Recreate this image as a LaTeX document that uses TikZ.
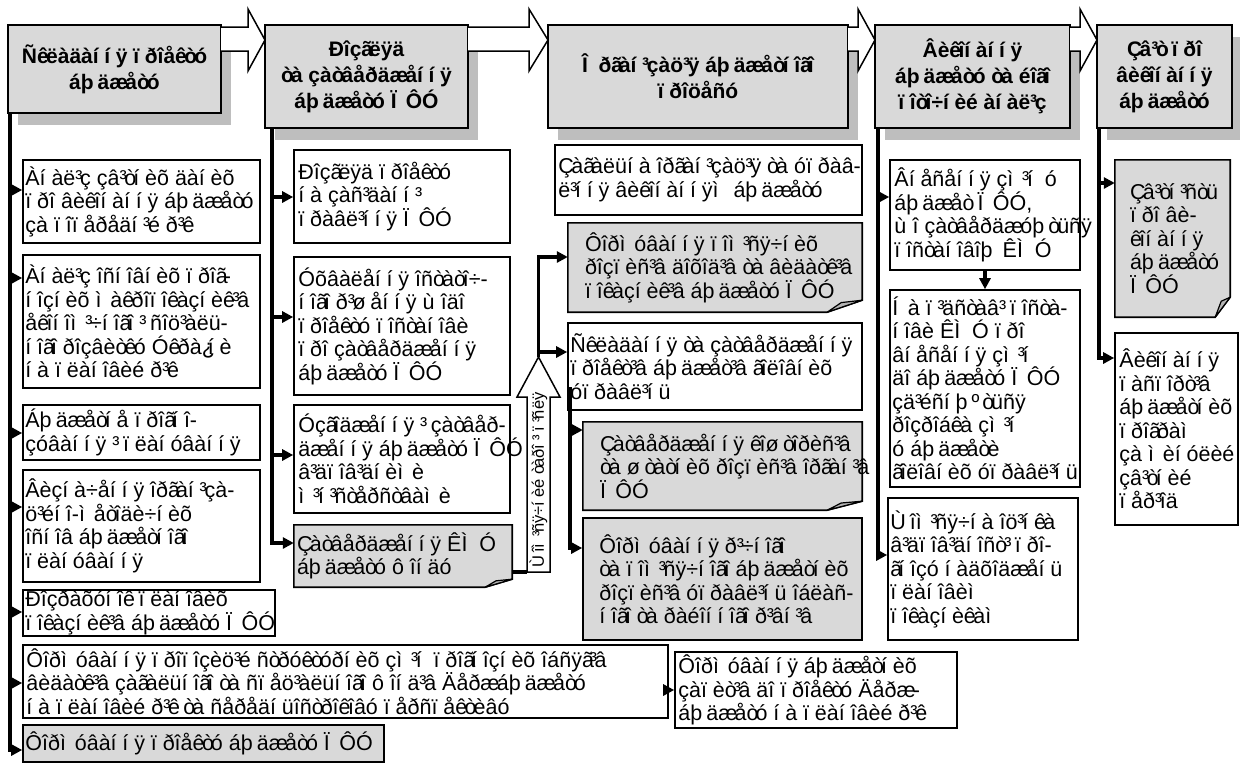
\documentclass[tikz,border=0pt]{standalone}
\usepackage{fontspec}
\setmainfont{Liberation Sans}
\usetikzlibrary{arrows.meta,shadows}
\definecolor{headgray}{HTML}{D9D9D9}
\definecolor{boxgray}{HTML}{D9D9D9}
\definecolor{shadowgray}{HTML}{BEBEBE}
\definecolor{foldgray}{HTML}{B4B4B4}
% emulate the Cyrillic advance widths of the original font
\catcode`\ã=13 \protected\defã{\char"00E3\kern-.19em\relax}
\catcode`\æ=13 \protected\defæ{\char"00E6\kern-.13em\relax}
\catcode`\ê=13 \protected\defê{\char"00EA\kern-.12em\relax}
\catcode`\ì=13 \protected\defì{\char"00EC\kern.41em\relax}
\catcode`\í=13 \protected\defí{\char"00ED\kern.27em\relax}
\catcode`\ï=13 \protected\defï{\char"00EF\kern.27em\relax}
\catcode`\ò=13 \protected\defò{\char"00F2\kern-.14em\relax}
\catcode`\ô=13 \protected\defô{\char"00F4\kern.27em\relax}
\catcode`\ø=13 \protected\defø{\char"00F8\kern.21em\relax}
\catcode`\ù=13 \protected\defù{\char"00F9\kern.29em\relax}
\catcode`\þ=13 \protected\defþ{\char"00FE\kern.19em\relax}
\catcode`\³=13 \protected\def³{\char"00B3\kern-.11em\relax}
\catcode`\¿=13 \protected\def¿{\char"00BF\kern-.33em\relax}
\catcode`\º=13 \protected\defº{\char"00BA\kern.13em\relax}
\catcode`\Ï=13 \protected\defÏ{\char"00CF\kern.44em\relax}
\catcode`\Ì=13 \protected\defÌ{\char"00CC\kern.55em\relax}
\catcode`\Í=13 \protected\defÍ{\char"00CD\kern.44em\relax}
\catcode`\Ù=13 \protected\defÙ{\char"00D9\kern.18em\relax}
\catcode`\Î=13 \protected\defÎ{\char"00CE\kern.50em\relax}
\catcode`\Ç=13 \protected\defÇ{\char"00C7\kern-.12em\relax}

\newcommand\mkhead[6]{%
  \pgfmathsetmacro\mybw{#4-#2}\pgfmathsetmacro\mybh{#5-#3}%
  \pgfmathsetmacro\mycx{(#2+#4)/2}\pgfmathsetmacro\mycy{(#3+#5)/2}%
  \node[head,minimum width=\mybw pt,minimum height=\mybh pt] (#1) at (\mycx,\mycy) {#6};}
\newcommand\mkbox[8]{%
  \pgfmathsetmacro\mybw{#5-#3}\pgfmathsetmacro\mybh{#6-#4}%
  \pgfmathsetmacro\mycx{(#3+#5)/2}\pgfmathsetmacro\mycy{(#4+#6)/2}%
  \node[#2,minimum width=\mybw pt,minimum height=\mybh pt] (#1) at (\mycx,\mycy) {};%
  \node[txt,anchor=west] (#1-t) at ([xshift=#7pt]#1.west) {#8};}
\newcommand\mkfold[9]{%
  \pgfmathsetmacro\mybw{#4-#2}\pgfmathsetmacro\mybh{#5-#3}%
  \pgfmathsetmacro\mycx{(#2+#4)/2}\pgfmathsetmacro\mycy{(#3+#5)/2}%
  \node[ghost,minimum width=\mybw pt,minimum height=\mybh pt] (#1) at (\mycx,\mycy) {};%
  \filldraw[foldbox] (#1.north west) -- (#1.north east) -- ([yshift=#8pt]#1.south east)
     -- ([xshift=-#7pt]#1.south east) -- (#1.south west) -- cycle;%
  \filldraw[foldtip] ([xshift=-#7pt]#1.south east) -- ([xshift={-0.6*#7},yshift={0.8*#8}]#1.south east)
     -- ([yshift=#8pt]#1.south east) -- cycle;%
  \node[txt,anchor=west] (#1-t) at ([xshift=#6pt]#1.west) {#9};}
\newcommand\harrow[3]{\filldraw[harr] (#1,27) -- (#2,27) -- (#2,9) -- (#3,40) -- (#2,71) -- (#2,51) -- (#1,51);}

\begin{document}
\begin{tikzpicture}[x=1pt,y=-1pt,
  box/.style={draw=black,line width=1.6pt,fill=white,inner sep=0pt},
  gbox/.style={box,fill=boxgray},
  ghost/.style={draw=none,fill=none,inner sep=0pt},
  foldbox/.style={draw=black,line width=1.6pt,fill=boxgray,line join=miter},
  foldtip/.style={draw=black,line width=1.2pt,fill=foldgray,line join=round},
  txt/.style={align=left,inner sep=0pt,font=\fontsize{21.5}{23.5}\selectfont},
  vtxt/.style={inner sep=0pt,font=\fontsize{16.5}{18}\selectfont},
  head/.style={draw=black,line width=1.6pt,fill=headgray,align=center,inner sep=0pt,
     font=\bfseries\fontsize{21}{26}\selectfont,
     drop shadow={shadow xshift=10pt,shadow yshift=-12pt,fill=shadowgray,opacity=1}},
  harr/.style={draw=black,line width=1.5pt,fill=white,line join=miter},
  trunk/.style={line width=3.5pt},
  conn/.style={line width=3.5pt,-{Triangle[length=11pt,width=11pt]}},
]
\useasboundingbox (0,0) rectangle (1240,772);
\fill[white] (0,0) rectangle (1240,772);

% ---------- header row ----------
\mkhead{H1}{8}{25}{221}{113}{Ñêëàäàííÿ ïðîåêòó\\áþäæåòó}
\mkhead{H2}{265}{25}{468}{128}{Ðîçãëÿä\\òà çàòâåðäæåííÿ\\áþäæåòó ÏÔÓ}
\mkhead{H3}{548}{25}{848}{128}{Îðãàí³çàö³ÿ áþäæåòíîãî\\ïðîöåñó}
\mkhead{H4}{875}{25}{1070}{128}{Âèêîíàííÿ\\áþäæåòó òà éîãî\\ïîòî÷íèé àíàë³ç}
\mkhead{H5}{1097}{25}{1232}{128}{Çâ³ò ïðî\\âèêîíàííÿ\\áþäæåòó}
\harrow{221}{248}{265}
\harrow{468}{529}{548}
\harrow{848}{858}{875}
\harrow{1070}{1080}{1097}

% ---------- column 1 ----------
\mkbox{B1a}{box}{23}{160}{260}{243}{3}{Àíàë³ç çâ³òíèõ äàíèõ\\ïðî âèêîíàííÿ áþäæåòó\\çà ïîïåðåäí³é ð³ê}
\mkbox{B1b}{box}{23}{255}{260}{388}{3}{Àíàë³ç îñíîâíèõ ïðîã-\\íîçíèõ ìàêðîïîêàçíèê³â\\åêîíîì³÷íîãî ³ ñîö³àëü-\\íîãî ðîçâèòêó Óêðà¿íè\\íà ïëàíîâèé ð³ê}
\mkbox{B1c}{box}{23}{405}{260}{460}{3}{Áþäæåòíå ïðîãíî-\\çóâàííÿ ³ ïëàíóâàííÿ}
\mkbox{B1d}{box}{23}{470}{260}{582}{3}{Âèçíà÷åííÿ îðãàí³çà-\\ö³éíî-ìåòîäè÷íèõ\\îñíîâ áþäæåòíîãî\\ïëàíóâàííÿ}
\mkbox{B1e}{box}{23}{590}{275}{636}{3}{Ðîçðàõóíîê ïëàíîâèõ\\ïîêàçíèê³â áþäæåòó ÏÔÓ}
\mkbox{B1f}{box}{23}{645}{668}{718}{4}{Ôîðìóâàííÿ ïðîïîçèö³é ñòðóêòóðíèõ çì³í ïðîãíîçíèõ îáñÿã³â\\âèäàòê³â çàãàëüíîãî òà ñïåö³àëüíîãî ôîíä³â Äåðæáþäæåòó\\íà ïëàíîâèé ð³ê òà ñåðåäíüîñòðîêîâó ïåðñïåêòèâó}
\mkbox{B1g}{box}{675}{652}{957}{728}{4}{Ôîðìóâàííÿ áþäæåòíèõ\\çàïèò³â äî ïðîåêòó Äåðæ-\\áþäæåòó íà ïëàíîâèé ð³ê}
\mkbox{B1h}{gbox}{23}{725}{384}{762}{3}{Ôîðìóâàííÿ ïðîåêòó áþäæåòó ÏÔÓ}

% ---------- column 2 ----------
\mkbox{B2a}{box}{294}{150}{510}{243}{5}{Ðîçãëÿä ïðîåêòó\\íà çàñ³äàíí³\\ïðàâë³ííÿ ÏÔÓ}
\mkbox{B2b}{box}{294}{257}{510}{395}{5}{Óõâàëåííÿ îñòàòî÷-\\íîãî ð³øåííÿ ùîäî\\ïðîåêòó ïîñòàíîâè\\ïðî çàòâåðäæåííÿ\\áþäæåòó ÏÔÓ}
\mkbox{B2c}{box}{294}{405}{510}{513}{5}{Óçãîäæåííÿ ³ çàòâåð-\\äæåííÿ áþäæåòó ÏÔÓ\\â³äïîâ³äíèìè\\ì³í³ñòåðñòâàìè}
\mkfold{B2d}{294}{525}{512}{587}{3}{27}{8}{Çàòâåðäæåííÿ ÊÌÓ\\áþäæåòó ôîíäó}

% vertical block arrow
\filldraw[harr] (527,572) -- (527,397) -- (517,397) -- (538.5,357) -- (560,397) -- (550,397) -- (550,572) -- cycle;
\node[vtxt,rotate=90] (VA) at (538.5,480) {Ùîì³ñÿ÷íèé òàðî ³ ï³ñëÿ};
\coordinate (VAbot) at (527,572);
\coordinate (VAtip) at (538.5,357);

% ---------- column 3 ----------
\mkbox{B3a}{box}{555}{145}{862}{215}{4}{Çàãàëüíà îðãàí³çàö³ÿ òà óïðàâ-\\ë³ííÿ âèêîíàííÿì áþäæåòó}
\mkfold{B3b}{568}{223}{862}{312}{17}{35}{12}{Ôîðìóâàííÿ ïîì³ñÿ÷íèõ\\ðîçïèñ³â äîõîä³â òà âèäàòê³â\\ïîêàçíèê³â áþäæåòó ÏÔÓ}
\mkbox{B3c}{box}{568}{323}{862}{410}{3}{Ñêëàäàííÿ òà çàòâåðäæåííÿ\\ïðîåêò³â áþäæåò³â ãîëîâíèõ\\óïðàâë³íü}
\mkfold{B3d}{583}{422}{862}{510}{17}{35}{9}{Çàòâåðäæåííÿ êîøòîðèñ³â\\òà øòàòíèõ ðîçïèñ³â îðãàí³â\\ÏÔÓ}
\mkbox{B3e}{gbox}{583}{518}{862}{640}{17}{Ôîðìóâàííÿ ð³÷íîãî\\òà ïîì³ñÿ÷íîãî áþäæåòíèõ\\ðîçïèñ³â óïðàâë³íü îáëàñ-\\íîãî òà ðàéîííîãî ð³âí³â}
\coordinate (T3) at (570,387);

% ---------- column 4 ----------
\mkbox{B4a}{box}{890}{160}{1080}{270}{5}{Âíåñåííÿ çì³í ó\\áþäæåò ÏÔÓ,\\ùî çàòâåðäæóþòüñÿ\\ïîñòàíîâîþ ÊÌÓ}
\mkbox{B4b}{box}{890}{290}{1080}{487}{3}{Íà ï³äñòàâ³ ïîñòà-\\íîâè ÊÌÓ ïðî\\âíåñåííÿ çì³í\\äî áþäæåòó ÏÔÓ\\çä³éñíþºòüñÿ\\ðîçðîáêà çì³í\\ó áþäæåòè\\ãîëîâíèõ óïðàâë³íü}
\mkbox{B4c}{box}{888}{498}{1078}{640}{3}{Ùîì³ñÿ÷íà îö³íêà\\â³äïîâ³äíîñò³ ïðî-\\ãíîçó íàäõîäæåíü\\ïëàíîâèì\\ïîêàçíèêàì}

% ---------- column 5 ----------
\mkfold{B5a}{1115}{160}{1230}{317}{15}{15}{20}{Çâ³òí³ñòü\\ïðî âè-\\êîíàííÿ\\áþäæåòó\\ÏÔÓ}
\mkbox{B5b}{box}{1115}{333}{1238}{525}{5}{Âèêîíàííÿ\\ïàñïîðò³â\\áþäæåòíèõ\\ïðîãðàì\\çà ìèíóëèé\\çâ³òíèé\\ïåð³îä}

% ---------- connectors ----------
\coordinate (T1) at (10,113);
\coordinate (T2) at (272,128);
\coordinate (T4) at (878,128);
\coordinate (T5) at (1099,128);

\draw[conn] (T1) |- (B1h.west |- 0,750);
\draw[conn] (T1 |- 0,190) -- (B1a.west |- 0,190);
\draw[conn] (T1 |- 0,278) -- (B1b.west |- 0,278);
\draw[conn] (T1 |- 0,433) -- (B1c.west |- 0,433);
\draw[conn] (T1 |- 0,507) -- (B1d.west |- 0,507);
\draw[conn] (T1 |- 0,612) -- (B1e.west |- 0,612);
\draw[conn] (T1 |- 0,683) -- (B1f.west |- 0,683);
\draw[conn] (B1f.east |- 0,690) -- (B1g.west |- 0,690);

\draw[conn] (T2) |- (B2d.west |- 0,543);
\draw[conn] (T2 |- 0,197) -- (B2a.west |- 0,197);
\draw[conn] (T2 |- 0,317) -- (B2b.west |- 0,317);
\draw[conn] (T2 |- 0,455) -- (B2c.west |- 0,455);

\draw[trunk] (B2d.east |- VAbot) -- (VAbot);
\draw[conn] (VAtip) |- (B3b.west |- 0,257);
\draw[conn] (VAtip |- 0,352) -- (B3c.west |- 0,352);
\draw[conn] (T3) |- (B3e.west |- 0,548);
\draw[conn] (T3 |- 0,430) -- (B3d.west |- 0,430);

\draw[conn] (T4) |- (B4c.west |- 0,555);
\draw[conn] (T4 |- 0,197) -- (B4a.west |- 0,197);
\draw[conn] (B4a.south) -- (B4b.north);

\draw[conn] (T5) |- (B5b.west |- 0,358);
\draw[conn] (T5 |- 0,183) -- (B5a.west |- 0,183);
\end{tikzpicture}
\end{document}
